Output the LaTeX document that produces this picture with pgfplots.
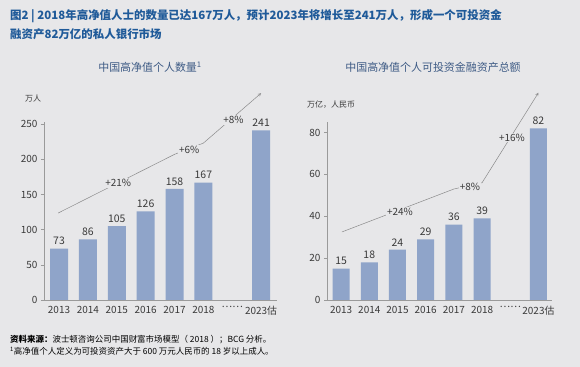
\documentclass[border=0pt]{standalone}
\usepackage{pgfplots}
\pgfplotsset{compat=1.18}
\usepackage{fontspec}
\setmainfont{Noto Sans CJK SC}
\definecolor{bg}{HTML}{E7E7E9}
\definecolor{barc}{HTML}{8FA4C9}
\definecolor{ttl}{HTML}{1F5A99}
\definecolor{sub}{HTML}{3E5B85}
\definecolor{txt}{HTML}{3A3A3A}
\definecolor{axisc}{HTML}{9A9A9A}
\definecolor{trend}{HTML}{8A8A8A}
\tikzset{pct/.style={font=\fontsize{10}{12}\selectfont, text=txt, fill=bg, inner sep=1pt}}
\pgfplotsset{
  common/.style={
    scale only axis, clip=false,
    axis x line*=bottom, axis y line*=left,
    axis line style={axisc, line width=0.8pt},
    ytick style={axisc, line width=0.6pt},
    xtick style={draw=none},
    tick align=outside, major tick length=3bp,
    ticklabel style={font=\fontsize{10}{12}\selectfont, text=txt},
    /pgf/number format/assume math mode=true,
    xtick={0,1,2,3,4,5,6,7},
    xticklabels={2013,2014,2015,2016,2017,2018,……,2023估},
    ymin=0,
  },
  bars/.style={ybar, fill=barc, draw=none, nodes near coords,
    every node near coord/.append style={font=\fontsize{10.5}{12}\selectfont, text=txt, /pgf/number format/assume math mode=true}},
  trendline/.style={draw=trend, line width=0.5pt, -stealth, mark=none},
}
\begin{document}
\begin{tikzpicture}
\fill[bg] (0,0) rectangle (580bp,367bp);
\node[anchor=west, inner sep=0, text=ttl, font=\fontsize{11.5}{13}\selectfont\bfseries] at (10bp,351bp) {图2 | 2018年高净值人士的数量已达167万人，预计2023年将增长至241万人，形成一个可投资金};
\node[anchor=west, inner sep=0, text=ttl, font=\fontsize{11.5}{13}\selectfont\bfseries] at (10bp,333bp) {融资产82万亿的私人银行市场};

\node[text=sub, font=\fontsize{11}{12}\selectfont, inner sep=0] at (150bp,300bp) {中国高净值个人数量\textsuperscript{1}};
\node[text=sub, font=\fontsize{11}{12}\selectfont, inner sep=0] at (433bp,300bp) {中国高净值个人可投资金融资产总额};
\node[anchor=west, text=txt, font=\fontsize{8}{9}\selectfont, inner sep=0] at (25bp,269bp) {万人};
\node[anchor=west, text=txt, font=\fontsize{8}{9}\selectfont, inner sep=0] at (307bp,262bp) {万亿，人民币};

\node[anchor=west, text=black, font=\fontsize{8.5}{9}\selectfont, inner sep=0] at (10bp,27bp) {\textbf{资料来源：}波士顿咨询公司中国财富市场模型（ 2018 ）；BCG 分析。};
\node[anchor=west, text=black, font=\fontsize{8.5}{9}\selectfont, inner sep=0] at (10bp,16bp) {\textsuperscript{1}高净值个人定义为可投资资产大于 600 万元人民币的 18 岁以上成人。};

\begin{axis}[common, at={(44bp,67bp)}, anchor=south west, width=233bp, height=178bp,
  xmin=-0.52, xmax=7.55, ymax=253, ytick={0,50,100,150,200,250}]
\addplot[bars, bar width=18bp] coordinates {(0,73) (1,86) (2,105) (3,126) (4,158) (5,167) (7,241)};
\addplot[trendline] coordinates {(-0.03,123.6) (4,207) (5,223) (7,294)};
\node[pct] at (axis cs:2.05,166) {+21\%};
\node[pct] at (axis cs:4.51,214) {+6\%};
\node[pct] at (axis cs:6.04,256) {+8\%};
\end{axis}

\begin{axis}[common, at={(327bp,67bp)}, anchor=south west, width=225bp, height=178bp,
  xmin=-0.5, xmax=7.48, ymax=85, ytick={0,20,40,60,80}]
\addplot[bars, bar width=17bp] coordinates {(0,15) (1,18) (2,24) (3,29) (4,36) (5,39) (7,82)};
\addplot[trendline] coordinates {(0.03,32.5) (4,53) (5,56) (7,99)};
\node[pct] at (axis cs:2.09,42) {+24\%};
\node[pct] at (axis cs:4.57,54) {+8\%};
\node[pct] at (axis cs:6.06,77.5) {+16\%};
\end{axis}
\end{tikzpicture}
\end{document}
